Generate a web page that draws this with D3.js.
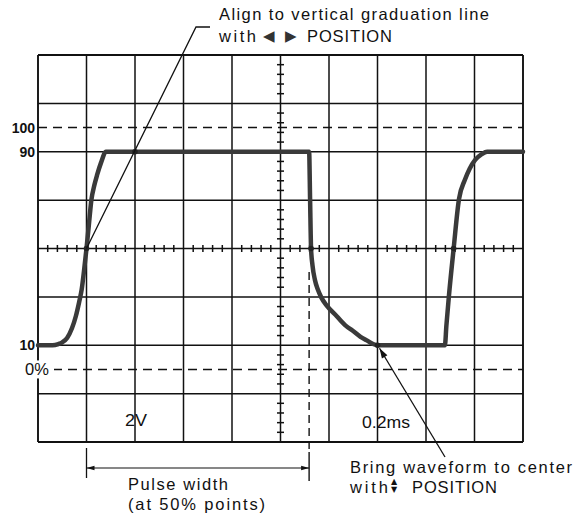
<!DOCTYPE html>
<html>
<head>
<meta charset="utf-8">
<script src="https://cdn.jsdelivr.net/npm/d3@7"></script>
<style>
  html, body { margin: 0; padding: 0; background: #fff; }
  svg { display: block; }
  text { font-family: "Liberation Sans", Arial, Helvetica, sans-serif; fill: #111; }
</style>
</head>
<body>
<svg id="chart" width="579" height="515"></svg>
<script>
// ---- data (x in graticule divisions, y in percent of pulse amplitude) ----
const xDivisions = [0,1,2,3,4,5,6,7,8,9,10];
const yGridPercents = [-30,-10,10,30,50,70,90,110,130];
const dashedLevels = [0, 100];
const levelLabels = ["100", "90", "10", "0%"];
const levelValues = [100, 90, 10, 0];

const waveX = [0, 0.3, 0.42, 0.5, 0.6, 0.7, 0.78, 0.85, 0.9, 0.95, 1.0, 1.05, 1.1, 1.16, 1.22, 1.3, 1.4,
               5.59, 5.61, 5.63, 5.66, 5.71, 5.77, 5.84, 5.95, 6.16, 6.35, 6.49, 6.65, 6.78, 6.9, 7.0,
               8.39, 8.42, 8.47, 8.57, 8.68, 8.8, 8.9, 9.01, 9.15, 9.26, 10];
const waveY = [10, 10, 10.5, 11.2, 13, 17, 22, 28, 33, 41, 50, 60, 70, 76, 80.5, 85.5, 90,
               90, 70.4, 50, 43, 37, 33, 29.8, 26.5, 22, 18, 16, 13.5, 12, 10.6, 10,
               10, 18, 29.8, 50, 70.4, 78.3, 83, 86.5, 89, 90, 90];

const svg = d3.select("#chart");
const x = d3.scaleLinear().domain([0, 10]).range([38, 523]);
const y = d3.scaleLinear().domain([-30, 130]).range([442, 55]);

const g = svg.append("g");

// grid
g.selectAll("line.v").data(xDivisions).join("line")
  .attr("x1", d => x(d)).attr("x2", d => x(d))
  .attr("y1", y(130)).attr("y2", y(-30))
  .attr("stroke", "#111").attr("stroke-width", (d) => (d === 0 || d === 10) ? 1.9 : 1.5);
g.selectAll("line.h").data(yGridPercents).join("line")
  .attr("x1", x(0)).attr("x2", x(10))
  .attr("y1", d => y(d)).attr("y2", d => y(d))
  .attr("stroke", "#111").attr("stroke-width", (d) => (d === -30 || d === 130) ? 1.9 : 1.5);

// dashed 0% and 100% lines
g.selectAll("line.dash").data(dashedLevels).join("line")
  .attr("x1", x(0)).attr("x2", x(10))
  .attr("y1", d => y(d)).attr("y2", d => y(d))
  .attr("stroke", "#111").attr("stroke-width", 1.6)
  .attr("stroke-dasharray", "9,6");

// minor ticks on the centre lines
const minor = d3.range(0, 10.001, 0.2).filter(v => Math.abs(v - Math.round(v)) > 0.01);
g.selectAll("line.mx").data(minor).join("line")
  .attr("x1", d => x(d)).attr("x2", d => x(d))
  .attr("y1", y(50) - 3.5).attr("y2", y(50) + 3.5)
  .attr("stroke", "#111").attr("stroke-width", 1.5);
const minorY = d3.range(-30, 130.001, 4).filter(v => Math.abs(((v + 30) / 20) - Math.round((v + 30) / 20)) > 0.01);
g.selectAll("line.my").data(minorY).join("line")
  .attr("x1", x(5) - 3.5).attr("x2", x(5) + 3.5)
  .attr("y1", d => y(d)).attr("y2", d => y(d))
  .attr("stroke", "#111").attr("stroke-width", 1.5);

// level labels
const lbl = g.selectAll("g.lbl").data(levelLabels).join("g");
lbl.each(function(d, i) {
  const sel = d3.select(this);
  const v = levelValues[i];
  if (d === "0%") {
    sel.append("rect").attr("x", 24).attr("y", y(v) - 9).attr("width", 30).attr("height", 18).attr("fill", "#fff");
    sel.append("text").attr("x", 25).attr("y", y(v) + 6).attr("font-size", 16.5).text(d);
  } else {
    sel.append("text").attr("x", 35).attr("y", y(v) + 5).attr("text-anchor", "end")
      .attr("font-size", 14).attr("font-weight", "bold").text(d);
  }
});

// waveform
const wave = waveX.map((d, i) => [d, waveY[i]]);
g.append("path").datum(wave)
  .attr("d", d3.line().x(d => x(d[0])).y(d => y(d[1])).curve(d3.curveMonotoneX))
  .attr("fill", "none").attr("stroke", "#3a3a3a").attr("stroke-width", 4.5)
  .attr("stroke-linejoin", "round").attr("stroke-linecap", "round");

// dots where the trace crosses graticule lines
g.selectAll("circle.c").data([[1.0, 50], [5.63, 50], [8.57, 50], [7.0, 10], [2, 90]]).join("circle")
  .attr("cx", d => x(d[0])).attr("cy", d => y(d[1])).attr("r", 2.8).attr("fill", "#222");

// scale labels
g.append("text").attr("x", 125).attr("y", 426).attr("font-size", 16).attr("textLength", 22).attr("lengthAdjust", "spacingAndGlyphs").text("2V");
g.append("text").attr("x", 362).attr("y", 428).attr("font-size", 16).attr("textLength", 48).attr("lengthAdjust", "spacingAndGlyphs").text("0.2ms");

// ---- top annotation ----
const ann = svg.append("g").attr("stroke", "#111").attr("fill", "none");
ann.append("path")
  .attr("d", `M210,27 L196,27 L${x(1)},${y(50)}`)
  .attr("stroke-width", 1.3);
svg.append("text").attr("x", 219).attr("y", 20).attr("font-size", 16.5)
  .attr("textLength", 270).attr("lengthAdjust", "spacing")
  .text("Align to vertical graduation line");
const t2 = svg.append("text").attr("x", 219).attr("y", 42).attr("font-size", 16.5);
t2.append("tspan").attr("textLength", 37).attr("lengthAdjust", "spacing").text("with");
t2.append("tspan").attr("x", 263).attr("dy", -1).attr("font-size", 15)
  .style("font-family", "'DejaVu Sans'").attr("fill", "#333").text("◀");
t2.append("tspan").attr("x", 285).attr("font-size", 15)
  .style("font-family", "'DejaVu Sans'").attr("fill", "#333").text("▶");
t2.append("tspan").attr("x", 307).attr("dy", 1).attr("textLength", 85).attr("lengthAdjust", "spacing").text("POSITION");

// ---- pulse width annotation ----
const pw = svg.append("g").attr("stroke", "#111").attr("fill", "none");
pw.append("line").attr("x1", x(1)).attr("x2", x(1)).attr("y1", 448).attr("y2", 478).attr("stroke-width", 1.3);
pw.append("line").attr("x1", x(5.59)).attr("x2", x(5.59)).attr("y1", 272).attr("y2", 452)
  .attr("stroke-width", 1.4).attr("stroke-dasharray", "8,5");
pw.append("line").attr("x1", x(5.59)).attr("x2", x(5.59)).attr("y1", 452).attr("y2", 481).attr("stroke-width", 1.4);
pw.append("line").attr("x1", x(1)).attr("x2", x(5.59)).attr("y1", 468).attr("y2", 468).attr("stroke-width", 1.2);
svg.append("path").attr("d", `M${x(1)},468 l8,-2.2 l0,4.4 Z`).attr("fill", "#111");
svg.append("path").attr("d", `M${x(5.59)},468 l-8,-2.2 l0,4.4 Z`).attr("fill", "#111");
svg.append("text").attr("x", 128).attr("y", 490).attr("font-size", 16.5)
  .attr("textLength", 100).attr("lengthAdjust", "spacing").text("Pulse width");
svg.append("text").attr("x", 128).attr("y", 510).attr("font-size", 16.5)
  .attr("textLength", 137).attr("lengthAdjust", "spacing").text("(at 50% points)");

// ---- bring waveform annotation ----
const tip = [x(7.0) + 2, y(10) + 3];
svg.append("line").attr("x1", 445).attr("y1", 457).attr("x2", tip[0]).attr("y2", tip[1])
  .attr("stroke", "#111").attr("stroke-width", 1.3);
const ang = Math.atan2(tip[1] - 457, tip[0] - 445);
const ah = 10, aw = 3.2;
const bx = tip[0] - ah * Math.cos(ang), by = tip[1] - ah * Math.sin(ang);
svg.append("path")
  .attr("d", `M${tip[0]},${tip[1]} L${bx + aw * Math.sin(ang)},${by - aw * Math.cos(ang)} L${bx - aw * Math.sin(ang)},${by + aw * Math.cos(ang)} Z`)
  .attr("fill", "#111");
svg.append("text").attr("x", 350).attr("y", 473).attr("font-size", 16.5)
  .attr("textLength", 222).attr("lengthAdjust", "spacing").text("Bring waveform to center");
const t3 = svg.append("text").attr("x", 350).attr("y", 493).attr("font-size", 16.5);
t3.append("tspan").attr("textLength", 38).attr("lengthAdjust", "spacing").text("with");
t3.append("tspan").attr("x", 391).attr("dy", -9).attr("font-size", 8)
  .style("font-family", "'DejaVu Sans'").text("▲");
t3.append("tspan").attr("x", 391).attr("dy", 8).attr("font-size", 8)
  .style("font-family", "'DejaVu Sans'").text("▼");
t3.append("tspan").attr("x", 412).attr("dy", 1).attr("textLength", 85).attr("lengthAdjust", "spacing").text("POSITION");
</script>
</body>
</html>
